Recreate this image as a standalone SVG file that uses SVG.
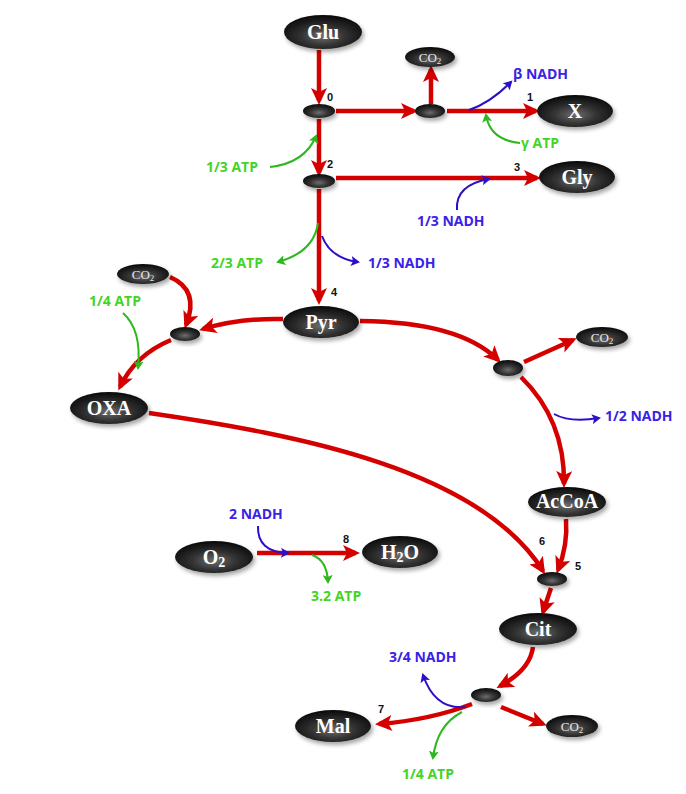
<svg xmlns="http://www.w3.org/2000/svg" width="686" height="794" viewBox="0 0 686 794">
<defs>
<radialGradient id="gloss" cx="50%" cy="62%" r="62%">
<stop offset="0" stop-color="#6e6e6e"/>
<stop offset="0.45" stop-color="#333"/>
<stop offset="1" stop-color="#080808"/>
</radialGradient>
<filter id="sh" x="-20%" y="-30%" width="150%" height="170%">
<feDropShadow dx="2" dy="3" stdDeviation="2" flood-color="#000" flood-opacity="0.35"/>
</filter>
<marker id="ar" markerUnits="userSpaceOnUse" markerWidth="18" markerHeight="16" refX="13" refY="8" orient="auto">
<path d="M0,0 L17,8 L0,16 L4,8 z" fill="#d40000"/>
</marker>
<marker id="ab" markerUnits="userSpaceOnUse" markerWidth="10" markerHeight="10" refX="7" refY="5" orient="auto">
<path d="M0,0 L9,5 L0,10 L2,5 z" fill="#2a10c8"/>
</marker>
<marker id="ag" markerUnits="userSpaceOnUse" markerWidth="10" markerHeight="10" refX="7" refY="5" orient="auto">
<path d="M0,0 L9,5 L0,10 L2,5 z" fill="#2db81e"/>
</marker>
</defs>
<style>
.n{fill:url(#gloss);filter:url(#sh)}
.t{fill:#fff;font-family:"Liberation Serif",serif;font-weight:bold;font-size:20px;text-anchor:middle}
.c{fill:#e6e6e6;font-family:"Liberation Serif",serif;font-size:13px;text-anchor:middle}
.r{fill:none;stroke:#d40000;stroke-width:4.5;marker-end:url(#ar)}
.b{fill:none;stroke:#2a10c8;stroke-width:2;marker-end:url(#ab)}
.g{fill:none;stroke:#2db81e;stroke-width:2;marker-end:url(#ag)}
.lb{fill:#3a22e6;font-family:"Open Sans",sans-serif;font-weight:bold;font-size:14px}
.lg{fill:#44d426;font-family:"Open Sans",sans-serif;font-weight:bold;font-size:14px}
.num{fill:#111;font-family:"Liberation Sans",sans-serif;font-weight:bold;font-size:11px}
</style>
<g id="connectors">
<path class="r" d="M319,50 L319,101"/>
<path class="r" d="M336,111 L414,111"/>
<path class="r" d="M431,104 L431,69"/>
<path class="r" d="M447,111 L536,111"/>
<path class="r" d="M319,119 L319,173"/>
<path class="r" d="M336,178 L537,178"/>
<path class="r" d="M319,189 L319,301"/>
<path class="r" d="M283,319 Q240,318 203,329"/>
<path class="r" d="M170,277 Q200,290 186,325"/>
<path class="r" d="M171,340 Q135,355 120,387"/>
<path class="r" d="M360,321 Q460,322 498,360"/>
<path class="r" d="M524,362 L573,340"/>
<path class="r" d="M521,377 Q565,420 564,484"/>
<path class="r" d="M149,413 C300,435 480,470 543,571"/>
<path class="r" d="M566,519 Q568,545 558,570"/>
<path class="r" d="M551,588 L543,612"/>
<path class="r" d="M533,647 Q530,670 500,686"/>
<path class="r" d="M472,704 Q430,720 379,724"/>
<path class="r" d="M501,707 L543,724"/>
<path class="r" d="M257,553 L356,553"/>
<path class="g" d="M270,167 Q305,163 316,136"/>
<path class="b" d="M469,110 Q490,103 511,82"/>
<path class="g" d="M520,143 Q490,140 486,115"/>
<path class="b" d="M457,210 Q455,185 489,179"/>
<path class="g" d="M318,223 Q314,252 278,262"/>
<path class="b" d="M322,236 Q330,258 358,262"/>
<path class="g" d="M123,313 Q142,330 138,368"/>
<path class="b" d="M554,414 Q570,423 599,418"/>
<path class="b" d="M258,526 Q257,552 288,553"/>
<path class="g" d="M312,555 Q327,560 328,582"/>
<path class="b" d="M465,707 Q435,710 423,675"/>
<path class="g" d="M462,712 Q437,725 433,758"/>
</g>
<g id="Glu"><ellipse class="n" cx="323" cy="32" rx="39" ry="17"/><text class="t" x="323" y="39">Glu</text></g>
<g id="r0"><ellipse class="n" cx="319" cy="111" rx="16" ry="7"/></g>
<g id="r0b"><ellipse class="n" cx="430" cy="111" rx="15" ry="7"/></g>
<g id="CO2a"><ellipse class="n" cx="430" cy="57" rx="25" ry="10"/><text class="c" x="430" y="62">CO<tspan font-size="9" dy="2">2</tspan></text></g>
<g id="X"><ellipse class="n" cx="575" cy="111" rx="38" ry="16"/><text class="t" x="575" y="118">X</text></g>
<g id="r2"><ellipse class="n" cx="319" cy="181" rx="16" ry="7"/></g>
<g id="Gly"><ellipse class="n" cx="577" cy="177" rx="38" ry="16"/><text class="t" x="577" y="184">Gly</text></g>
<g id="Pyr"><ellipse class="n" cx="321" cy="322" rx="38" ry="16"/><text class="t" x="321" y="329">Pyr</text></g>
<g id="CO2b"><ellipse class="n" cx="143" cy="274" rx="26" ry="10"/><text class="c" x="143" y="279">CO<tspan font-size="9" dy="2">2</tspan></text></g>
<g id="rL"><ellipse class="n" cx="185" cy="334" rx="15" ry="7"/></g>
<g id="OXA"><ellipse class="n" cx="109" cy="408" rx="39" ry="16"/><text class="t" x="109" y="415">OXA</text></g>
<g id="rR"><ellipse class="n" cx="508" cy="368" rx="15" ry="8"/></g>
<g id="CO2c"><ellipse class="n" cx="602" cy="337" rx="26" ry="10"/><text class="c" x="602" y="342">CO<tspan font-size="9" dy="2">2</tspan></text></g>
<g id="AcCoA"><ellipse class="n" cx="567" cy="502" rx="39" ry="15"/><text class="t" x="567" y="508" font-size="16">AcCoA</text></g>
<g id="r5"><ellipse class="n" cx="552" cy="579" rx="15" ry="7"/></g>
<g id="Cit"><ellipse class="n" cx="538" cy="629" rx="39" ry="16"/><text class="t" x="538" y="636">Cit</text></g>
<g id="rB"><ellipse class="n" cx="486" cy="695" rx="15" ry="7"/></g>
<g id="Mal"><ellipse class="n" cx="333" cy="726" rx="38" ry="16"/><text class="t" x="333" y="733">Mal</text></g>
<g id="CO2d"><ellipse class="n" cx="572" cy="726" rx="26" ry="11"/><text class="c" x="572" y="731">CO<tspan font-size="9" dy="2">2</tspan></text></g>
<g id="O2"><ellipse class="n" cx="214" cy="557" rx="39" ry="16"/><text class="t" x="214" y="564">O<tspan font-size="14" dy="3">2</tspan></text></g>
<g id="H2O"><ellipse class="n" cx="400" cy="552" rx="38" ry="16"/><text class="t" x="400" y="559">H<tspan font-size="14" dy="3">2</tspan><tspan dy="-3">O</tspan></text></g>
<g id="labels">
<text class="num" x="327" y="101">0</text>
<text class="num" x="527" y="101">1</text>
<text class="num" x="327" y="168">2</text>
<text class="num" x="514" y="171">3</text>
<text class="num" x="331" y="296">4</text>
<text class="num" x="575" y="570">5</text>
<text class="num" x="539" y="545">6</text>
<text class="num" x="378" y="713">7</text>
<text class="num" x="343" y="543">8</text>
<text class="lb" x="513" y="79">β NADH</text>
<text class="lg" x="521" y="148">γ ATP</text>
<text class="lg" x="206" y="172">1/3 ATP</text>
<text class="lb" x="417" y="226">1/3 NADH</text>
<text class="lg" x="211" y="268">2/3 ATP</text>
<text class="lb" x="368" y="268">1/3 NADH</text>
<text class="lg" x="89" y="306">1/4 ATP</text>
<text class="lb" x="605" y="421">1/2 NADH</text>
<text class="lb" x="229" y="519">2 NADH</text>
<text class="lg" x="311" y="601">3.2 ATP</text>
<text class="lb" x="389" y="662">3/4 NADH</text>
<text class="lg" x="402" y="779">1/4 ATP</text>
</g>
</svg>
